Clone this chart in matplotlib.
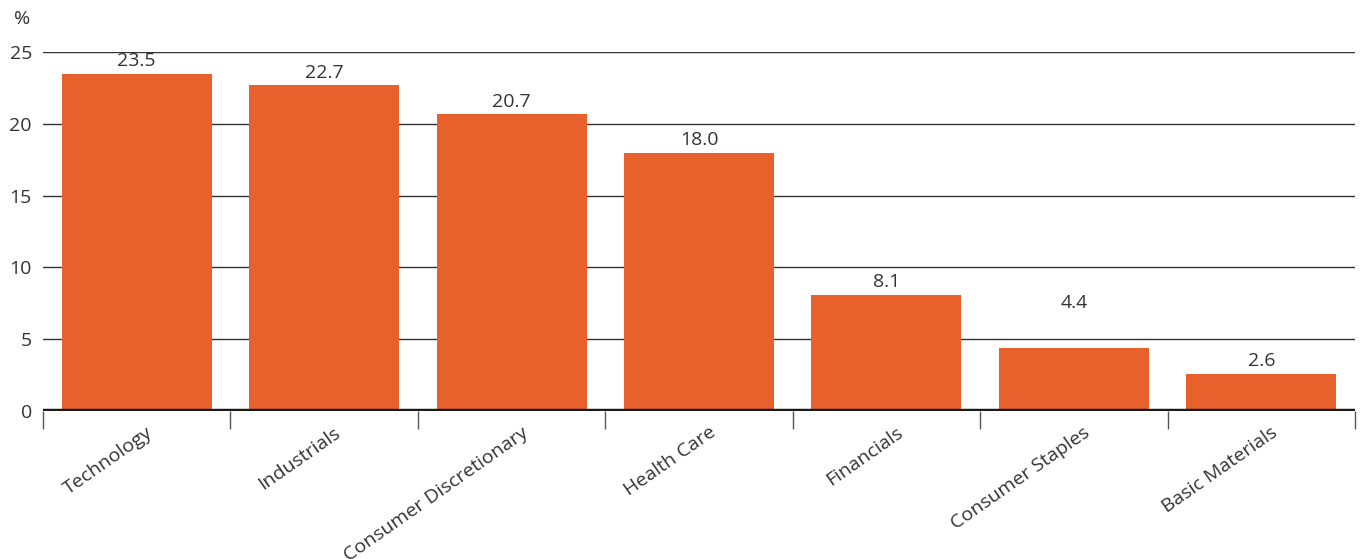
import numpy as np
import matplotlib
matplotlib.use("Agg")
import matplotlib.pyplot as plt
from matplotlib.ticker import FixedLocator

sectors = ["Technology", "Industrials", "Consumer Discretionary", "Health Care",
           "Financials", "Consumer Staples", "Basic Materials"]
weights = [23.5, 22.7, 20.7, 18.0, 8.1, 4.4, 2.6]
y_ticks = [0, 5, 10, 15, 20, 25]

plt.rcParams['font.family'] = ['Open Sans', 'DejaVu Sans']
bar_color = '#E8612C'
text_color = '#333333'

fig = plt.figure(figsize=(13.68, 5.59), dpi=100)
ax = fig.add_axes([43 / 1368, 1 - 411 / 559, (1355 - 43) / 1368, (411 - 52) / 559])

x = np.arange(len(sectors))
ax.bar(x, weights, width=0.8, color=bar_color, zorder=2)

ax.set_xlim(-0.5, len(sectors) - 0.5)
ax.set_ylim(0, 25)
ax.set_yticks(y_ticks)
ax.set_yticklabels([str(t) for t in y_ticks], fontsize=14, color=text_color)
ax.tick_params(axis='y', length=0, pad=8)

for t in y_ticks[1:]:
    ax.axhline(t, color='#333333', lw=1.0, zorder=1)
ax.axhline(0, color='#1a1a1a', lw=3.2, zorder=3)

for spine in ax.spines.values():
    spine.set_visible(False)

# category labels at bar centres, tick marks at the boundaries
ax.set_xticks(x + 0.05)
ax.set_xticklabels(sectors, rotation=35, ha='right', va='top',
                   rotation_mode='anchor', fontsize=14, color=text_color)
ax.tick_params(axis='x', which='major', length=0, pad=9)
ax.xaxis.set_minor_locator(FixedLocator(np.arange(-0.5, len(sectors), 1.0)))
ax.tick_params(axis='x', which='minor', length=13, width=1, color='#555555', direction='out')

# value labels; lift a label above a gridline it would cut through
for xi, v in zip(x, weights):
    y = v + 0.85
    for g in y_ticks[1:]:
        if abs(y - g) < 0.5:
            y = g + 2.5
    ax.text(xi, y, f"{v:.1f}", ha='center', va='center', fontsize=14, color=text_color)

fig.text(14 / 1368, 1 - 19 / 559, "%", fontsize=14, color=text_color, va='center', ha='left')

fig.savefig("out.png", dpi=100)
